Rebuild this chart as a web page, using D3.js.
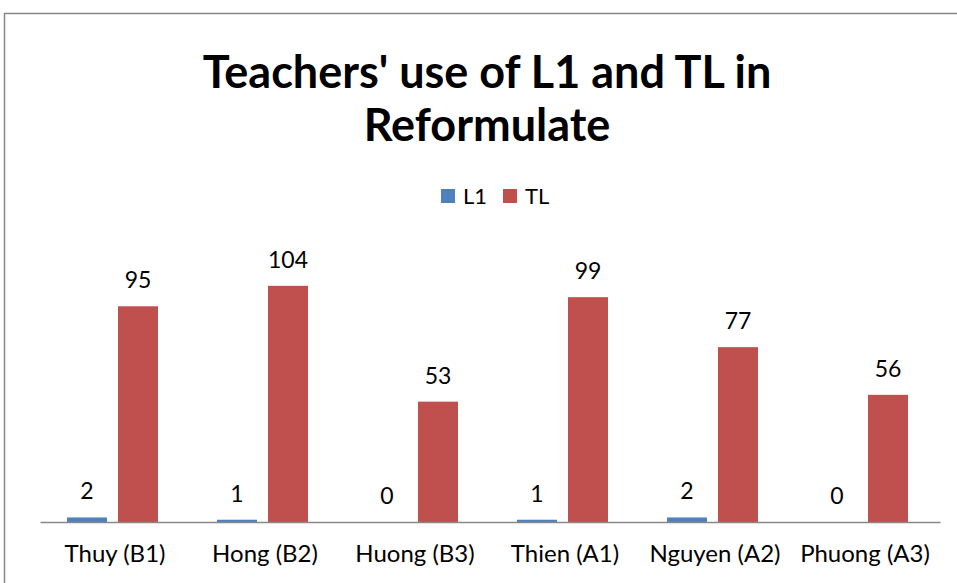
<!DOCTYPE html>
<html>
<head>
<meta charset="utf-8">
<script src="https://cdn.jsdelivr.net/npm/d3@7"></script>
<style>
  body { margin: 0; background: #fff; }
  text { font-family: Lato, "Open Sans", sans-serif; fill: #000; }
</style>
</head>
<body>
<div class="chart"></div>
<script>
'use strict';

const categories = ['Thuy (B1)', 'Hong (B2)', 'Huong (B3)', 'Thien (A1)', 'Nguyen (A2)', 'Phuong (A3)'];
const seriesNames = ['L1', 'TL'];
const l1Values = [2, 1, 0, 1, 2, 0];
const tlValues = [95, 104, 53, 99, 77, 56];
const colors = ['#4f81bd', '#c0504d'];

const width = 957;
const height = 583;
const plot = {left: 40, right: 940, top: 249.5, bottom: 522};
const barWidth = 40;
const barOffsets = [27, 78];

const svg = d3.select('.chart').append('svg')
    .attr('width', width)
    .attr('height', height);

// chart frame, runs off the right and bottom edge
svg.append('rect')
    .attr('x', 4.5)
    .attr('y', 13.5)
    .attr('width', 970)
    .attr('height', 600)
    .attr('fill', 'none')
    .attr('stroke', '#878787')
    .attr('stroke-width', 1.5);

const title = svg.append('text')
    .attr('text-anchor', 'middle')
    .style('font-weight', 'bold')
    .style('font-size', '45px');
title.append('tspan').attr('x', 487).attr('y', 88).text("Teachers' use of L1 and TL in");
title.append('tspan').attr('x', 487).attr('y', 141).text('Reformulate');

const xScale = d3.scaleBand()
    .domain(categories)
    .range([plot.left, plot.right]);

const yScale = d3.scaleLinear()
    .domain([0, 120])
    .range([plot.bottom, plot.top]);

const data = categories.map((c, i) => ({
  category: c,
  values: [l1Values[i], tlValues[i]]
}));

const groups = svg.selectAll('.group')
    .data(data)
    .enter().append('g')
    .attr('class', 'group')
    .attr('transform', d => `translate(${xScale(d.category)},0)`);

groups.selectAll('rect')
    .data(d => d.values)
    .enter().append('rect')
    .attr('x', (d, i) => barOffsets[i])
    .attr('width', barWidth)
    .attr('y', d => yScale(d))
    .attr('height', d => plot.bottom - yScale(d))
    .attr('fill', (d, i) => colors[i]);

groups.selectAll('.value')
    .data(d => d.values)
    .enter().append('text')
    .attr('class', 'value')
    .attr('x', (d, i) => barOffsets[i] + barWidth / 2)
    .attr('y', d => yScale(d) - 18)
    .attr('text-anchor', 'middle')
    .style('font-size', '23px')
    .text(d => d);

// x axis
const xAxis = svg.append('g')
    .attr('transform', `translate(0,${plot.bottom})`)
    .call(d3.axisBottom(xScale).tickSize(0));
xAxis.select('.domain').attr('stroke', '#888').attr('stroke-width', 1.5);
xAxis.selectAll('.tick text')
    .attr('y', 40)
    .attr('dy', null)
    .style('font-size', '24px')
    .style('font-family', 'Lato, "Open Sans", sans-serif')
    .attr('fill', '#000');

// legend
const legend = svg.append('g')
    .attr('transform', 'translate(441,189)');
const items = legend.selectAll('g')
    .data(seriesNames)
    .enter().append('g')
    .attr('transform', (d, i) => `translate(${i * 62},0)`);
items.append('rect')
    .attr('width', 14)
    .attr('height', 14)
    .attr('fill', (d, i) => colors[i]);
items.append('text')
    .attr('x', 22)
    .attr('y', 15)
    .style('font-size', '22px')
    .text(d => d);
</script>
</body>
</html>
